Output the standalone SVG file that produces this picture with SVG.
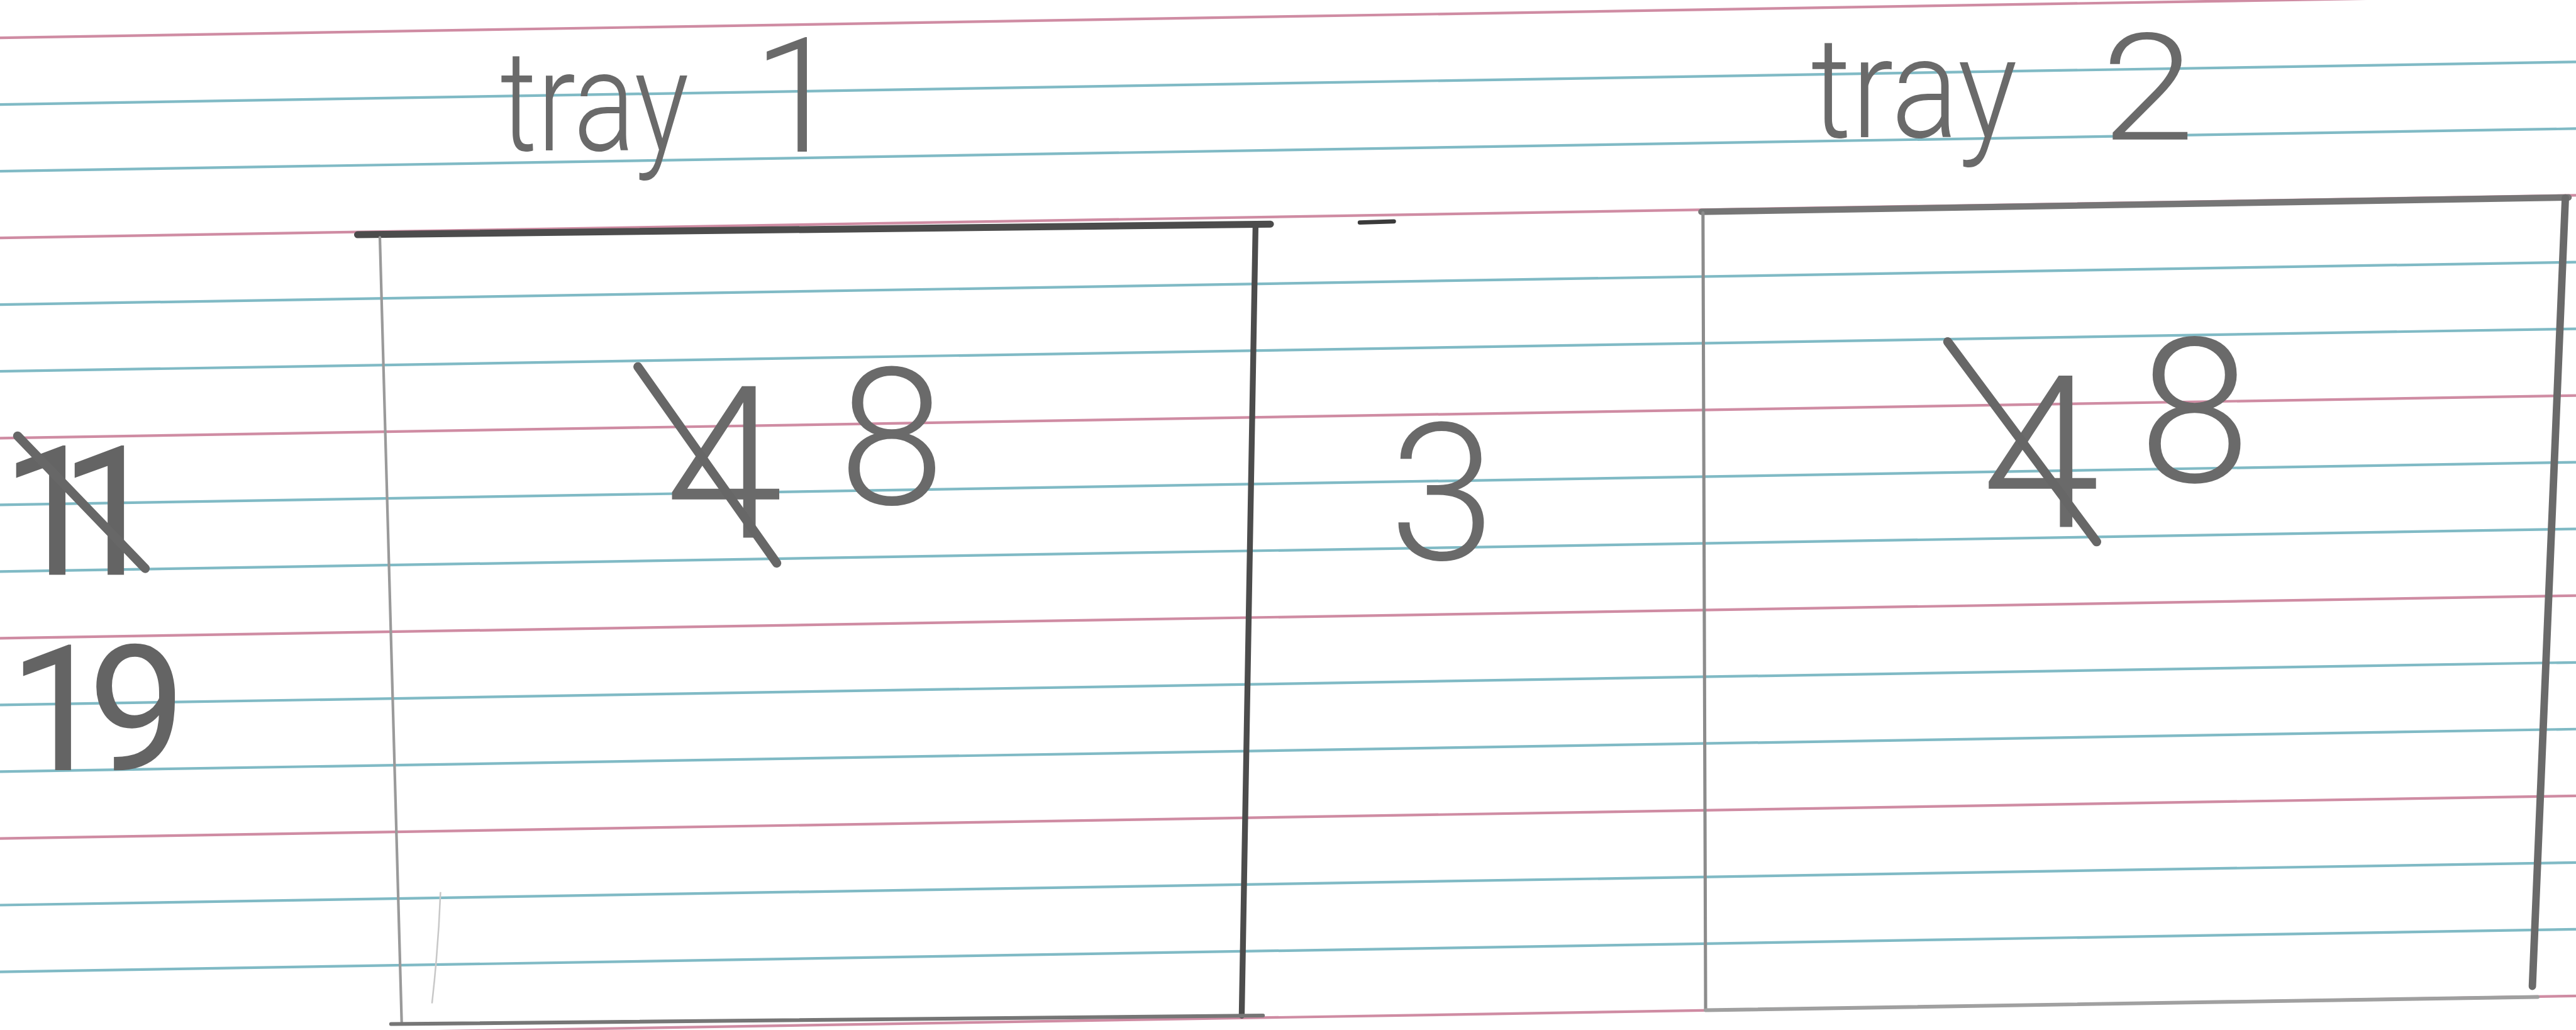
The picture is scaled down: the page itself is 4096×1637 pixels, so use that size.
<svg xmlns="http://www.w3.org/2000/svg" width="4096" height="1637" viewBox="0 0 4096 1637">
<style>
.pink{stroke:#cf8ca3;stroke-width:5;fill:none}
.blue{stroke:#80bac5;stroke-width:5;fill:none}
.edge{fill:none;stroke-linecap:round}
.dark{stroke:#4c4c4c}
.mid{stroke:#767676}
.light{stroke:#9a9a9a}
.pencil{fill:#6a6a6a;font-family:Roboto,"Liberation Sans",Arial,sans-serif;font-weight:300}
.heavy{font-weight:400;fill:#646464}
.strike{stroke:#676767;stroke-width:17;stroke-linecap:round;fill:none}
</style>
<rect width="4096" height="1637" fill="#ffffff"/>
<g transform="scale(0.845931)">
<g id="paper">
<line class="pink" x1="0" y1="71" x2="4842" y2="-9"/>
<line class="blue" x1="0" y1="196.3" x2="4842" y2="116.3"/>
<line class="blue" x1="0" y1="321.7" x2="4842" y2="241.7"/>
<line class="pink" x1="0" y1="447" x2="4842" y2="367"/>
<line class="blue" x1="0" y1="572.4" x2="4842" y2="492.4"/>
<line class="blue" x1="0" y1="697.7" x2="4842" y2="617.7"/>
<line class="pink" x1="0" y1="823.1" x2="4842" y2="743.1"/>
<line class="blue" x1="0" y1="948.4" x2="4842" y2="868.4"/>
<line class="blue" x1="0" y1="1073.8" x2="4842" y2="993.8"/>
<line class="pink" x1="0" y1="1199.1" x2="4842" y2="1119.1"/>
<line class="blue" x1="0" y1="1324.5" x2="4842" y2="1244.5"/>
<line class="blue" x1="0" y1="1449.8" x2="4842" y2="1369.8"/>
<line class="pink" x1="0" y1="1575.2" x2="4842" y2="1495.2"/>
<line class="blue" x1="0" y1="1700.5" x2="4842" y2="1620.5"/>
<line class="blue" x1="0" y1="1825.9" x2="4842" y2="1745.9"/>
<line class="pink" x1="0" y1="1951.2" x2="4842" y2="1871.2"/>
</g>
<g id="count-11-19">
<text class="pencil heavy" font-size="340" x="2 112" y="1080">11</text>
<line class="strike" x1="33" y1="819" x2="273" y2="1068"/>
<text class="pencil heavy" font-size="330" x="16 165" y="1447">19</text>
</g>
<g id="tray1">
<line class="edge dark" stroke-width="13" x1="672" y1="441" x2="2388" y2="421"/>
<line class="edge dark" stroke-width="11" x1="2360" y1="424" x2="2334" y2="1908"/>
<line class="edge light" stroke-width="5" x1="714" y1="446" x2="755" y2="1920"/>
<line class="edge mid" stroke-width="7" x1="735" y1="1924" x2="2374" y2="1908"/>
<path d="M828,1676 Q824,1780 812,1885" fill="none" stroke="#c8c8c8" stroke-width="3"/>
<text class="pencil" font-size="265" x="940" y="283" textLength="355" lengthAdjust="spacingAndGlyphs">tray</text>
<text class="pencil" font-size="300" x="1415" y="285">1</text>
<text class="pencil" font-size="400" x="1250" y="1010">4</text>
<line class="strike" x1="1199" y1="689" x2="1460" y2="1058"/>
<text class="pencil" font-size="360" x="1676" y="947" text-anchor="middle">8</text>
</g>
<g id="middle-3">
<text class="pencil" font-size="360" x="2711" y="1051" text-anchor="middle">3</text>
<line class="edge" stroke="#3a3a3a" stroke-width="8" x1="2556" y1="418" x2="2620" y2="416"/>
</g>
<g id="tray2">
<line class="edge mid" stroke-width="12" x1="3198" y1="398" x2="4828" y2="371"/>
<line class="edge" stroke="#8c8c8c" stroke-width="6" x1="3201" y1="400" x2="3206" y2="1898"/>
<line class="edge" stroke="#6a6a6a" stroke-width="14" x1="4822" y1="372" x2="4760" y2="1853"/>
<line class="edge" stroke="#a0a0a0" stroke-width="7" x1="3206" y1="1898" x2="4770" y2="1873"/>
<text class="pencil" font-size="265" x="3404" y="258" textLength="388" lengthAdjust="spacingAndGlyphs">tray</text>
<text class="pencil" font-size="280" x="3950" y="262" textLength="175" lengthAdjust="spacingAndGlyphs">2</text>
<text class="pencil" font-size="400" x="3725" y="990">4</text>
<line class="strike" x1="3661" y1="642" x2="3941" y2="1018"/>
<text class="pencil" font-size="380" x="4125" y="905" text-anchor="middle">8</text>
</g>
</g>
</svg>
